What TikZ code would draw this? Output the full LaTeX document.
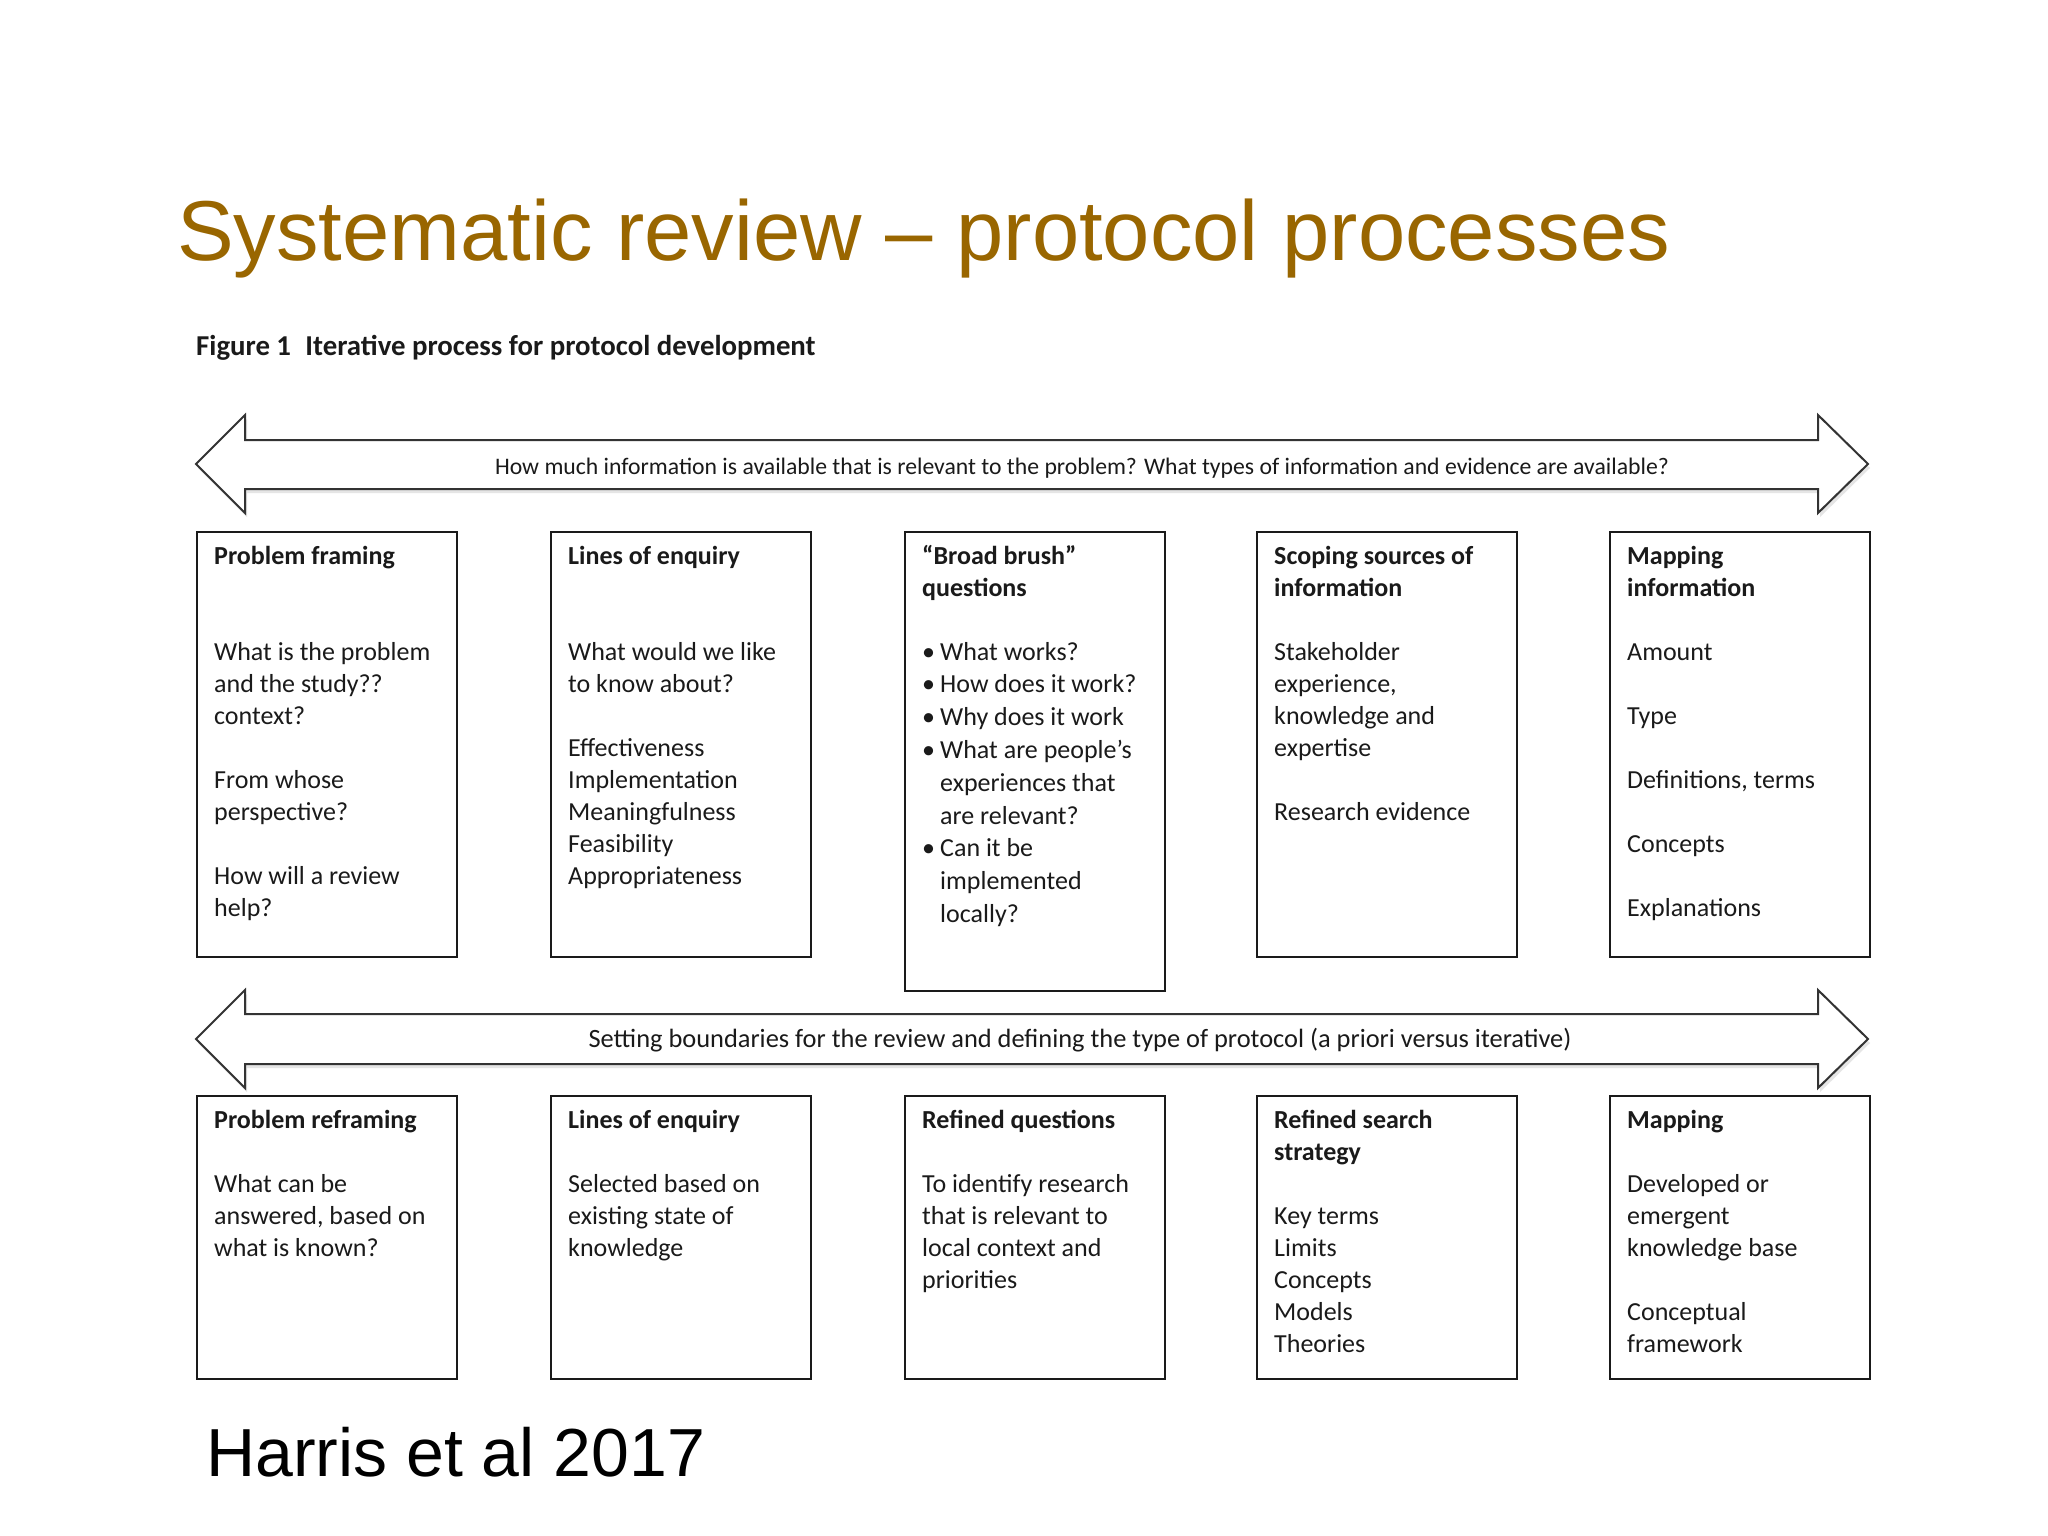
\documentclass[tikz,border=0pt]{standalone}
\usepackage{fontspec}
\setmainfont{Carlito}
\newfontfamily\arialfont{Liberation Sans}
\definecolor{titlegold}{HTML}{996600}
\definecolor{inkc}{HTML}{1A1A1A}
\newcommand{\bxlines}[1]{\parbox[t]{240bp}{\raggedright #1}}
\newcommand{\bl}{\mbox{}}
\newcommand{\bul}{\makebox[18bp][l]{•}}
\newcommand{\ind}{\hspace*{18bp}}
\tikzset{
  boxrect/.style={draw=inkc, line width=2bp, anchor=north west, inner sep=0pt, minimum width=260bp},
  bigarrow/.style={draw=black!80, line width=2bp, fill=white, line join=miter},
  arrowshadow/.style={fill=black!10, draw=none},
  boxtext/.style={anchor=base west, inner sep=0pt, text=inkc, font=\fontsize{26bp}{32bp}\selectfont},
  arrowtext/.style={anchor=base, inner sep=0pt, text=inkc},
}
\begin{document}
\begin{tikzpicture}[x=1bp,y=-1bp]
\useasboundingbox (0,0) rectangle (2048,1536);
\fill[white] (0,0) rectangle (2048,1536);

% title
\node[anchor=base west, inner sep=0pt, text=titlegold, font=\arialfont\fontsize{85bp}{100bp}\selectfont] (title) at (177,260) {Systematic review – protocol processes};
\node[anchor=base west, inner sep=0pt, text=inkc, font=\bfseries\fontsize{28.8bp}{34bp}\selectfont] (caption) at (196,355) {Figure 1\enspace Iterative process for protocol development};

% top double arrow
\fill[arrowshadow, shift={(2,4)}] (196,464) -- (245,415) -- (245,440) -- (1818,440) -- (1818,415) -- (1868,464) -- (1818,513) -- (1818,489) -- (245,489) -- (245,513) -- cycle;
\draw[bigarrow] (196,464) -- (245,415) -- (245,440) -- (1818,440) -- (1818,415) -- (1868,464) -- (1818,513) -- (1818,489) -- (245,489) -- (245,513) -- cycle;
\node[arrowtext, font=\fontsize{23.7bp}{28bp}\selectfont] (q1) at (1082,474) {How much information is available that is relevant to the problem? What types of information and evidence are available?};

% bottom double arrow
\fill[arrowshadow, shift={(2,4)}] (196,1039) -- (245,990) -- (245,1014) -- (1818,1014) -- (1818,990) -- (1868,1039) -- (1818,1088) -- (1818,1064) -- (245,1064) -- (245,1088) -- cycle;
\draw[bigarrow] (196,1039) -- (245,990) -- (245,1014) -- (1818,1014) -- (1818,990) -- (1868,1039) -- (1818,1088) -- (1818,1064) -- (245,1064) -- (245,1088) -- cycle;
\node[arrowtext, font=\fontsize{26.4bp}{30bp}\selectfont] (q2) at (1080,1047) {Setting boundaries for the review and defining the type of protocol (a priori versus iterative)};

% row 1 boxes
\node[boxrect, minimum height=425bp] (b1) at (196,531) {};
\node[boxrect, minimum height=425bp] (b2) at (550,531) {};
\node[boxrect, minimum height=459bp] (b3) at (904,531) {};
\node[boxrect, minimum height=425bp] (b4) at (1256,531) {};
\node[boxrect, minimum height=425bp] (b5) at (1609,531) {};

\node[boxtext] (t1) at (214,564) {\bxlines{\textbf{Problem framing}\\ \bl\\ \bl\\ What is the problem\\ and the study??\\ context?\\ \bl\\ From whose\\ perspective?\\ \bl\\ How will a review\\ help?}};
\node[boxtext] (t2) at (568,564) {\bxlines{\textbf{Lines of enquiry}\\ \bl\\ \bl\\ What would we like\\ to know about?\\ \bl\\ Effectiveness\\ Implementation\\ Meaningfulness\\ Feasibility\\ Appropriateness}};
\node[boxtext] (t3) at (922,564) {\bxlines{\textbf{“Broad brush”}\\ \textbf{questions}}};
\node[boxtext, font=\fontsize{26bp}{32.8bp}\selectfont] (t3b) at (922,660) {\bxlines{\bul What works?\\ \bul How does it work?\\ \bul Why does it work\\ \bul What are people’s\\ \ind experiences that\\ \ind are relevant?\\ \bul Can it be\\ \ind implemented\\ \ind locally?}};
\node[boxtext] (t4) at (1274,564) {\bxlines{\textbf{Scoping sources of}\\ \textbf{information}\\ \bl\\ Stakeholder\\ experience,\\ knowledge and\\ expertise\\ \bl\\ Research evidence}};
\node[boxtext] (t5) at (1627,564) {\bxlines{\textbf{Mapping}\\ \textbf{information}\\ \bl\\ Amount\\ \bl\\ Type\\ \bl\\ Definitions, terms\\ \bl\\ Concepts\\ \bl\\ Explanations}};

% row 2 boxes
\node[boxrect, minimum height=283bp] (c1) at (196,1095) {};
\node[boxrect, minimum height=283bp] (c2) at (550,1095) {};
\node[boxrect, minimum height=283bp] (c3) at (904,1095) {};
\node[boxrect, minimum height=283bp] (c4) at (1256,1095) {};
\node[boxrect, minimum height=283bp] (c5) at (1609,1095) {};

\node[boxtext] (u1) at (214,1128) {\bxlines{\textbf{Problem reframing}\\ \bl\\ What can be\\ answered, based on\\ what is known?}};
\node[boxtext] (u2) at (568,1128) {\bxlines{\textbf{Lines of enquiry}\\ \bl\\ Selected based on\\ existing state of\\ knowledge}};
\node[boxtext] (u3) at (922,1128) {\bxlines{\textbf{Refined questions}\\ \bl\\ To identify research\\ that is relevant to\\ local context and\\ priorities}};
\node[boxtext] (u4) at (1274,1128) {\bxlines{\textbf{Refined search}\\ \textbf{strategy}\\ \bl\\ Key terms\\ Limits\\ Concepts\\ Models\\ Theories}};
\node[boxtext] (u5) at (1627,1128) {\bxlines{\textbf{Mapping}\\ \bl\\ Developed or\\ emergent\\ knowledge base\\ \bl\\ Conceptual\\ framework}};

% citation
\node[anchor=base west, inner sep=0pt, text=black, font=\arialfont\fontsize{68bp}{80bp}\selectfont] (cite) at (206,1476) {Harris et al 2017};
\end{tikzpicture}
\end{document}
